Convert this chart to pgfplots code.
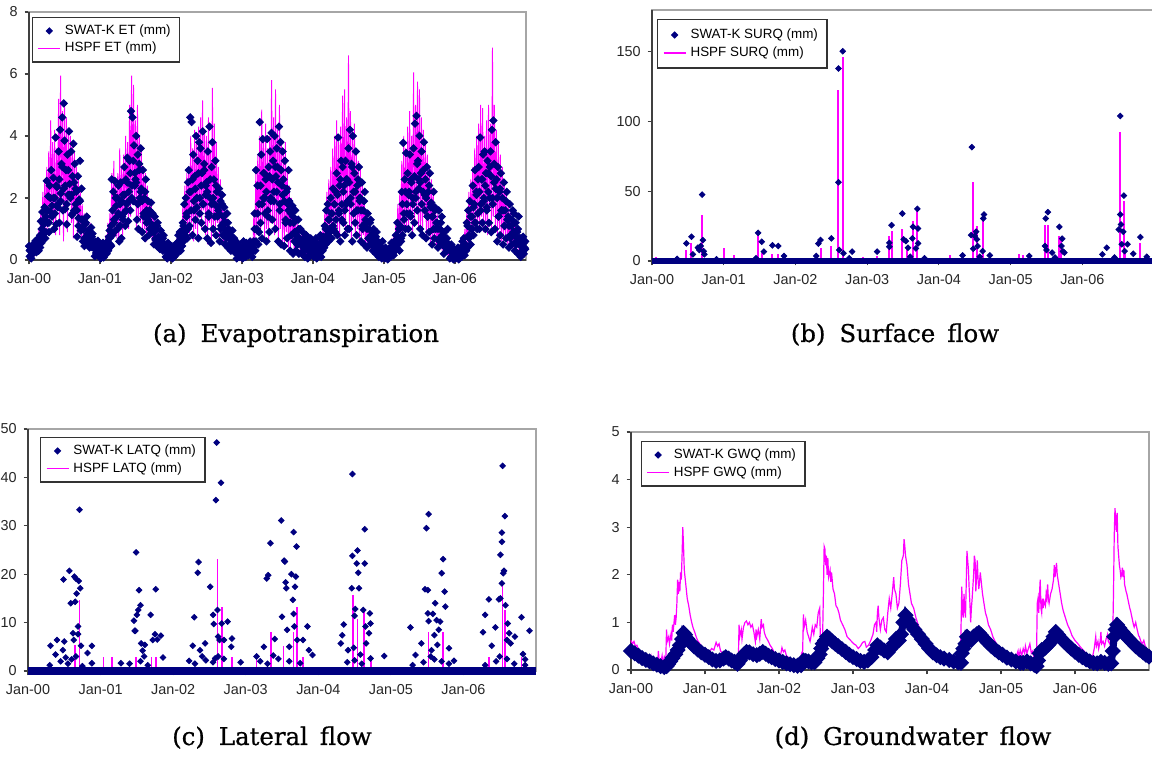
\documentclass[border=0pt]{standalone}
\usepackage{pgfplots}
\pgfplotsset{compat=1.18}
\usepackage{fontspec}
\setmainfont{Liberation Sans}
\newfontfamily\capfont[FakeBold=0.6]{DejaVu Serif}
\definecolor{swat}{RGB}{0,0,128}
\definecolor{hspf}{RGB}{255,0,255}

\tikzset{darkframe/.style={black!75, line width=0.9pt}}
\pgfplotsset{
  dmark/.style={mark=square*, mark size=1.0pt, mark options={rotate=45}},
  panel/.style={
    scale only axis, anchor=south west, clip=false,
    xmin=0, xmax=7, xtick={0,...,6},
    xticklabels={Jan-00,Jan-01,Jan-02,Jan-03,Jan-04,Jan-05,Jan-06},
    tick pos=left, tick align=outside, major tick length=2.2pt,
    tick style={black!75, line width=0.6pt},
    axis line style={black!35, line width=0.6pt},
    ticklabel style={font=\fontsize{7.2}{9}\selectfont, text=black!85},
    xticklabel style={yshift=-1pt},
    /pgf/number format/assume math mode=true,
    legend style={draw=black!80, line width=0.6pt, anchor=north west,
      font=\fontsize{6.7}{8.5}\selectfont, inner xsep=2.5pt, inner ysep=1.5pt,
      row sep=-1.5pt, cells={anchor=west}},
    legend image code/.code={\draw[mark repeat=2,mark phase=2,#1]
      plot coordinates {(0pt,0pt)(5.5pt,0pt)(11pt,0pt)};},
  },
}

\begin{document}
\begin{tikzpicture}[x=1pt,y=1pt]
\useasboundingbox (0,0) rectangle (576,379);

% ---------------- (a) evapotranspiration ----------------
\begin{axis}[panel, at={(14.5pt,249pt)}, width=248.5pt, height=124pt,
  ymin=0, ymax=8, ytick={0,2,4,6,8},
  legend style={at={(0.006,0.98)}}]
\addlegendimage{only marks, dmark, swat}
\addlegendentry{SWAT-K ET (mm)}
\addlegendimage{hspf, line width=0.7pt}
\addlegendentry{HSPF ET (mm)}
\draw[darkframe] (rel axis cs:0,1) -- (rel axis cs:0,0) -- (rel axis cs:1,0);
\addplot[hspf, line width=0.45pt, forget plot] table[row sep=\\, x expr=\coordindex/72, y=v] {
v\\
0.3\\0.1\\0.5\\0.2\\0.6\\0.1\\ 0.5\\0.2\\0.8\\0.3\\1.0\\0.4\\ 1.6\\0.6\\2.2\\0.9\\2.6\\1.0\\
3.0\\1.0\\3.5\\1.2\\4.5\\1.5\\ 3.8\\1.0\\4.2\\0.8\\3.6\\1.6\\ 5.2\\0.8\\5.95\\2.0\\4.8\\0.6\\
5.1\\1.5\\4.6\\0.9\\4.2\\2.0\\ 4.0\\1.2\\3.8\\0.7\\3.5\\1.5\\ 3.0\\0.8\\2.6\\1.0\\2.2\\0.6\\
1.8\\0.5\\1.5\\0.7\\1.3\\0.4\\ 1.0\\0.3\\1.2\\0.4\\0.8\\0.3\\ 0.6\\0.2\\0.5\\0.1\\0.4\\0.1\\
0.4\\0.1\\0.5\\0.1\\0.6\\0.2\\ 0.8\\0.3\\1.2\\0.5\\1.5\\0.6\\ 2.8\\0.8\\3.2\\1.0\\2.6\\0.7\\
2.8\\0.6\\3.6\\1.0\\3.0\\0.8\\ 3.4\\1.2\\4.0\\1.5\\3.8\\1.0\\ 5.0\\1.4\\5.95\\1.8\\5.65\\2.0\\
4.5\\1.0\\5.0\\1.4\\4.0\\1.2\\ 3.5\\0.8\\3.0\\1.0\\2.8\\0.6\\ 2.4\\0.7\\2.0\\0.9\\1.8\\0.6\\
1.5\\0.5\\1.3\\0.4\\1.1\\0.4\\ 0.9\\0.3\\1.0\\0.3\\0.7\\0.2\\ 0.5\\0.1\\0.4\\0.05\\0.3\\0.1\\
0.3\\0.05\\0.4\\0.1\\0.5\\0.2\\ 0.7\\0.2\\0.9\\0.4\\1.1\\0.5\\ 1.8\\0.6\\2.4\\0.8\\2.8\\1.0\\
3.0\\0.8\\4.0\\1.2\\3.6\\0.6\\ 4.2\\1.0\\3.8\\0.7\\4.3\\1.4\\ 4.6\\1.0\\5.15\\1.6\\4.2\\0.8\\
4.0\\0.5\\4.6\\1.2\\3.5\\0.6\\ 5.55\\1.0\\4.4\\0.7\\3.8\\1.2\\ 3.0\\0.6\\2.6\\0.9\\2.2\\0.5\\
1.8\\0.4\\1.5\\0.6\\1.2\\0.3\\ 0.9\\0.2\\0.8\\0.3\\0.6\\0.2\\ 0.5\\0.05\\0.4\\0.1\\0.3\\0.05\\
0.4\\0.05\\0.5\\0.1\\0.6\\0.1\\ 0.5\\0.1\\0.6\\0.2\\0.7\\0.3\\ 1.5\\0.4\\2.8\\0.8\\3.4\\1.0\\
4.0\\0.8\\4.85\\1.2\\3.8\\0.7\\ 4.4\\1.0\\3.6\\0.6\\4.0\\1.2\\ 5.8\\1.4\\4.6\\0.8\\5.5\\1.0\\
4.2\\0.6\\5.0\\1.0\\3.8\\0.5\\ 3.4\\0.4\\3.8\\0.9\\2.8\\0.4\\ 2.4\\0.3\\2.0\\0.6\\1.6\\0.3\\
1.4\\0.2\\1.2\\0.4\\1.0\\0.2\\ 0.8\\0.1\\0.7\\0.2\\0.6\\0.1\\ 0.5\\0.05\\0.6\\0.1\\0.4\\0.05\\
0.4\\0.05\\0.6\\0.1\\0.5\\0.2\\ 0.7\\0.2\\0.9\\0.3\\1.0\\0.4\\ 1.6\\0.5\\2.2\\0.8\\2.6\\0.9\\
3.0\\0.8\\3.6\\1.0\\4.0\\1.2\\ 4.5\\1.0\\3.8\\0.7\\4.3\\1.4\\ 5.3\\1.2\\5.5\\0.8\\4.6\\1.6\\
6.6\\1.0\\4.8\\0.6\\4.2\\1.3\\ 4.4\\0.8\\3.6\\1.0\\3.2\\0.6\\ 3.0\\0.5\\2.4\\0.8\\2.0\\0.4\\
1.6\\0.4\\1.3\\0.5\\1.0\\0.3\\ 0.9\\0.2\\0.8\\0.3\\0.6\\0.1\\ 0.5\\0.05\\0.4\\0.1\\0.3\\0.05\\
0.3\\0.05\\0.4\\0.1\\0.3\\0.05\\ 0.5\\0.1\\0.7\\0.2\\0.8\\0.3\\ 1.2\\0.4\\1.8\\0.6\\2.2\\0.7\\
3.2\\0.8\\4.0\\1.0\\3.6\\0.9\\ 4.3\\1.0\\4.8\\1.4\\4.0\\0.8\\ 6.05\\1.2\\5.0\\1.6\\5.75\\1.0\\
5.5\\1.0\\4.6\\0.7\\4.2\\1.4\\ 3.8\\0.6\\3.4\\1.0\\3.0\\0.5\\ 2.6\\0.5\\2.2\\0.7\\1.8\\0.4\\
1.5\\0.3\\1.2\\0.5\\1.0\\0.3\\ 0.8\\0.2\\0.7\\0.3\\0.5\\0.1\\ 0.4\\0.05\\0.3\\0.1\\0.2\\0.05\\
0.3\\0.05\\0.4\\0.1\\0.5\\0.1\\ 0.6\\0.2\\0.8\\0.3\\1.0\\0.4\\ 1.6\\0.5\\2.2\\0.8\\2.6\\1.0\\
3.0\\0.8\\3.6\\1.1\\4.0\\1.2\\ 4.4\\1.0\\5.0\\1.4\\4.9\\0.9\\ 4.0\\1.2\\4.5\\0.8\\5.0\\1.6\\
4.4\\1.0\\6.85\\1.4\\5.0\\0.9\\ 4.2\\0.7\\3.8\\1.0\\3.4\\0.6\\ 3.0\\0.5\\2.6\\0.8\\2.2\\0.5\\
1.8\\0.4\\1.6\\0.6\\1.3\\0.3\\ 1.2\\0.3\\1.0\\0.4\\0.8\\0.2\\ 0.6\\0.1\\0.8\\0.2\\0.5\\0.1\\
};
% SWAT-K daily ET, spread part of the cloud
\addplot[only marks, dmark, mark size=1.3pt, swat, forget plot] table[row sep=\\, x expr=\coordindex/96, y=v] {
v\\
0.45\\0.12\\0.33\\0.05\\0.41\\0.22\\0.52\\0.28\\ 0.35\\0.62\\0.25\\0.48\\0.68\\0.3\\0.55\\0.8\\
1.25\\0.55\\1.55\\0.85\\1.15\\1.7\\0.7\\1.4\\ 2.55\\1.2\\2.05\\0.9\\2.4\\1.55\\2.9\\1.75\\
1.45\\2.65\\1.0\\2.0\\3.95\\1.15\\2.35\\1.7\\ 3.5\\1.2\\4.2\\2.15\\3.1\\4.6\\1.6\\5.05\\
3.85\\1.65\\2.9\\1.15\\3.4\\2.1\\4.15\\2.45\\ 2.0\\3.5\\1.45\\2.7\\3.75\\1.6\\3.1\\2.3\\
2.2\\0.75\\2.7\\1.35\\1.95\\3.2\\0.95\\2.3\\ 1.3\\0.6\\1.0\\0.45\\1.15\\0.75\\1.4\\0.85\\
0.55\\0.95\\0.4\\0.75\\1.05\\0.42\\0.85\\0.6\\ 0.45\\0.12\\0.58\\0.25\\0.4\\0.62\\0.15\\0.48\\
0.3\\0.05\\0.45\\0.15\\0.55\\0.08\\0.35\\0.2\\ 0.4\\0.2\\0.6\\0.3\\0.75\\0.95\\0.5\\1.1\\
2.6\\0.8\\2.2\\1.3\\2.55\\0.95\\1.75\\2.0\\ 1.0\\2.4\\0.6\\1.8\\2.5\\0.7\\1.4\\2.1\\
1.5\\3.0\\1.1\\2.6\\1.8\\3.3\\1.25\\2.2\\ 3.2\\1.6\\4.8\\2.4\\4.6\\1.9\\3.7\\2.8\\
2.6\\4.0\\1.3\\3.4\\1.0\\3.1\\2.0\\3.6\\ 2.3\\0.9\\2.9\\1.5\\2.0\\0.7\\2.6\\1.2\\
1.4\\1.9\\0.8\\1.6\\1.2\\1.85\\0.9\\1.5\\ 1.1\\0.5\\1.4\\0.7\\1.0\\0.45\\1.2\\0.6\\
0.7\\0.35\\0.95\\0.5\\0.6\\0.3\\0.8\\0.4\\ 0.45\\0.1\\0.35\\0.05\\0.55\\0.2\\0.3\\0.08\\
0.2\\0.45\\0.05\\0.3\\0.1\\0.4\\0.15\\0.5\\ 0.55\\0.25\\0.8\\0.4\\0.9\\0.3\\0.65\\0.95\\
1.2\\0.6\\1.8\\0.9\\2.0\\1.4\\0.7\\2.5\\ 2.9\\1.1\\4.6\\2.2\\4.45\\0.8\\3.4\\1.6\\
2.7\\1.3\\4.0\\2.0\\3.2\\0.7\\3.8\\1.5\\ 3.6\\1.2\\2.8\\4.15\\1.8\\3.1\\1.0\\2.4\\
2.5\\0.7\\3.5\\1.4\\4.3\\2.0\\0.55\\3.0\\ 3.8\\1.0\\2.6\\1.8\\3.2\\0.8\\2.2\\1.4\\
1.6\\2.3\\0.6\\1.9\\1.1\\2.1\\0.8\\1.4\\ 1.7\\0.5\\1.2\\0.9\\1.5\\0.4\\1.0\\0.7\\
0.8\\0.3\\0.6\\0.95\\0.4\\0.7\\0.25\\0.55\\ 0.4\\0.05\\0.55\\0.15\\0.3\\0.1\\0.45\\0.2\\
0.3\\0.05\\0.6\\0.2\\0.45\\0.1\\0.55\\0.25\\ 0.5\\0.15\\0.35\\0.6\\0.2\\0.45\\0.1\\0.4\\
0.6\\1.5\\0.3\\2.9\\1.0\\2.4\\0.5\\1.8\\ 4.45\\1.2\\3.4\\0.7\\3.9\\2.0\\2.8\\1.5\\
2.6\\0.6\\3.9\\1.4\\3.0\\0.9\\3.5\\2.0\\ 4.1\\1.3\\3.2\\2.2\\4.0\\1.0\\2.7\\3.6\\
3.0\\0.6\\4.3\\1.6\\3.8\\0.5\\2.4\\3.5\\ 2.6\\0.45\\3.2\\1.2\\2.2\\0.7\\1.8\\2.9\\
1.9\\0.3\\1.5\\0.8\\1.75\\0.2\\1.2\\0.6\\ 1.6\\0.3\\0.9\\0.5\\1.3\\0.2\\0.7\\1.0\\
0.6\\0.2\\0.9\\0.4\\0.7\\0.1\\0.5\\0.8\\ 0.45\\0.05\\0.3\\0.6\\0.15\\0.7\\0.2\\0.5\\
0.3\\0.1\\0.6\\0.2\\0.7\\0.05\\0.45\\0.35\\ 0.5\\0.2\\0.8\\0.1\\0.65\\0.3\\0.75\\0.4\\
1.1\\0.5\\1.6\\0.8\\1.8\\0.6\\1.3\\1.0\\ 2.0\\0.7\\1.5\\2.3\\1.0\\1.8\\0.9\\2.2\\
2.8\\0.8\\3.95\\1.6\\2.4\\0.6\\3.2\\1.3\\ 3.0\\1.2\\2.4\\0.8\\3.2\\1.8\\2.6\\1.0\\
3.6\\1.0\\4.2\\2.0\\3.1\\0.6\\4.0\\1.5\\ 2.8\\1.2\\3.5\\0.8\\2.4\\1.6\\3.0\\2.0\\
2.0\\0.6\\2.5\\1.0\\1.6\\0.5\\2.2\\1.2\\ 1.2\\0.4\\1.5\\0.7\\1.0\\0.5\\1.3\\0.8\\
0.8\\0.3\\1.0\\0.5\\0.7\\0.2\\0.9\\0.6\\ 0.4\\0.1\\0.55\\0.2\\0.35\\0.05\\0.6\\0.25\\
0.25\\0.05\\0.4\\0.15\\0.3\\0.02\\0.35\\0.1\\ 0.35\\0.1\\0.55\\0.2\\0.45\\0.15\\0.6\\0.3\\
0.8\\0.4\\1.2\\0.6\\1.0\\0.3\\1.1\\0.7\\ 2.2\\0.8\\3.78\\1.5\\2.6\\1.0\\3.45\\1.8\\
2.8\\1.0\\2.2\\3.4\\1.4\\2.6\\0.8\\2.0\\ 3.6\\1.2\\4.4\\2.2\\4.65\\1.6\\3.2\\2.6\\
4.0\\1.0\\2.8\\3.5\\0.8\\2.2\\3.8\\1.6\\ 2.6\\0.7\\3.0\\1.4\\2.2\\0.9\\2.8\\1.8\\
1.85\\0.5\\1.4\\2.2\\0.7\\1.6\\1.0\\1.2\\ 1.2\\0.4\\1.6\\0.6\\1.0\\0.5\\1.4\\0.8\\
0.7\\0.2\\0.9\\0.4\\0.6\\0.3\\1.0\\0.5\\ 0.4\\0.05\\0.3\\0.5\\0.1\\0.25\\0.02\\0.35\\
0.2\\0.05\\0.35\\0.1\\0.4\\0.02\\0.25\\0.15\\ 0.4\\0.1\\0.6\\0.25\\0.7\\0.15\\0.5\\0.35\\
1.2\\0.4\\1.6\\0.7\\1.9\\0.5\\1.0\\1.4\\ 2.4\\0.8\\1.8\\2.9\\1.2\\2.2\\1.0\\2.6\\
3.0\\1.0\\3.95\\1.8\\2.6\\1.2\\3.4\\2.0\\ 3.5\\1.0\\2.8\\1.6\\3.2\\2.2\\1.2\\3.0\\
3.5\\0.9\\4.2\\1.8\\4.5\\2.5\\1.0\\3.8\\ 2.6\\0.6\\3.0\\1.4\\2.2\\0.8\\2.8\\1.6\\
2.0\\0.5\\2.5\\1.1\\1.6\\0.7\\2.2\\1.3\\ 1.4\\0.4\\1.8\\0.7\\1.1\\0.5\\1.6\\0.9\\
1.5\\0.3\\1.2\\0.6\\0.9\\0.2\\1.4\\0.7\\ 0.7\\0.1\\0.5\\0.3\\0.75\\0.2\\0.4\\0.6\\
};
% SWAT-K daily ET, dense core of the cloud
\addplot[only marks, dmark, mark size=1.3pt, swat, forget plot] table[row sep=\\, x expr=(\coordindex+0.5)/48, y=v] {
v\\
0.3\\0.15\\0.4\\0.25\\ 0.45\\0.3\\0.6\\0.4\\ 1.0\\0.7\\1.3\\0.9\\ 1.6\\1.2\\2.0\\1.4\\
2.0\\1.5\\2.4\\1.8\\ 2.6\\1.9\\3.0\\2.3\\ 2.4\\1.8\\2.9\\2.1\\ 2.1\\1.5\\2.5\\1.8\\
1.6\\1.1\\1.9\\1.3\\ 1.0\\0.7\\1.2\\0.8\\ 0.6\\0.45\\0.75\\0.5\\ 0.35\\0.2\\0.45\\0.3\\
0.3\\0.15\\0.35\\0.2\\ 0.5\\0.35\\0.7\\0.45\\ 1.6\\1.2\\2.0\\1.4\\ 1.5\\1.1\\1.9\\1.3\\
2.1\\1.6\\2.5\\1.9\\ 2.8\\2.0\\3.2\\2.4\\ 2.5\\1.8\\2.9\\2.2\\ 1.9\\1.4\\2.2\\1.6\\
1.3\\1.0\\1.5\\1.1\\ 0.9\\0.65\\1.1\\0.75\\ 0.55\\0.4\\0.7\\0.5\\ 0.3\\0.15\\0.4\\0.2\\
0.25\\0.1\\0.35\\0.2\\ 0.5\\0.35\\0.7\\0.45\\ 1.1\\0.8\\1.5\\1.0\\ 2.2\\1.6\\2.6\\1.9\\
2.3\\1.7\\2.8\\2.0\\ 2.4\\1.8\\2.9\\2.1\\ 2.2\\1.5\\2.6\\1.8\\ 2.0\\1.4\\2.4\\1.7\\
1.5\\1.0\\1.8\\1.2\\ 1.0\\0.7\\1.2\\0.8\\ 0.55\\0.4\\0.7\\0.45\\ 0.3\\0.15\\0.35\\0.2\\
0.25\\0.1\\0.35\\0.2\\ 0.35\\0.2\\0.45\\0.3\\ 1.0\\0.6\\1.5\\0.9\\ 2.4\\1.8\\2.8\\2.0\\
2.2\\1.6\\2.7\\1.9\\ 2.6\\1.9\\3.0\\2.2\\ 2.5\\1.8\\2.9\\2.1\\ 1.9\\1.3\\2.3\\1.6\\
1.2\\0.8\\1.4\\0.9\\ 0.8\\0.5\\1.0\\0.6\\ 0.5\\0.3\\0.6\\0.4\\ 0.3\\0.15\\0.4\\0.2\\
0.3\\0.15\\0.4\\0.25\\ 0.45\\0.3\\0.6\\0.4\\ 1.0\\0.7\\1.3\\0.9\\ 1.5\\1.1\\1.8\\1.3\\
2.1\\1.5\\2.6\\1.8\\ 2.2\\1.6\\2.6\\1.9\\ 2.5\\1.8\\3.0\\2.2\\ 2.2\\1.6\\2.6\\1.9\\
1.6\\1.1\\1.9\\1.3\\ 1.0\\0.7\\1.2\\0.8\\ 0.6\\0.4\\0.75\\0.5\\ 0.3\\0.15\\0.4\\0.2\\
0.2\\0.1\\0.3\\0.15\\ 0.35\\0.2\\0.45\\0.3\\ 0.8\\0.5\\1.0\\0.6\\ 1.8\\1.3\\2.2\\1.5\\
2.1\\1.5\\2.5\\1.8\\ 2.7\\2.0\\3.1\\2.3\\ 2.5\\1.8\\2.9\\2.1\\ 2.0\\1.4\\2.4\\1.7\\
1.4\\1.0\\1.7\\1.2\\ 1.0\\0.7\\1.2\\0.8\\ 0.6\\0.4\\0.7\\0.45\\ 0.3\\0.1\\0.35\\0.2\\
0.2\\0.1\\0.3\\0.15\\ 0.4\\0.25\\0.5\\0.3\\ 1.1\\0.8\\1.4\\1.0\\ 1.7\\1.2\\2.1\\1.5\\
2.2\\1.6\\2.6\\1.9\\ 2.4\\1.7\\2.8\\2.0\\ 2.7\\2.0\\3.1\\2.3\\ 2.0\\1.4\\2.3\\1.6\\
1.6\\1.1\\1.9\\1.3\\ 1.1\\0.8\\1.3\\0.9\\ 0.8\\0.5\\1.0\\0.6\\ 0.45\\0.25\\0.55\\0.35\\
};
\end{axis}

% ---------------- (b) surface flow ----------------
\begin{axis}[panel, at={(326pt,248.5pt)}, width=251pt, height=125.5pt,
  ymin=0, ymax=180, ytick={0,50,100,150},
  legend style={at={(0.01,0.964)}, inner ysep=2.5pt}]
\addlegendimage{only marks, dmark, swat}
\addlegendentry{SWAT-K SURQ (mm)}
\addlegendimage{hspf, line width=1pt}
\addlegendentry{HSPF SURQ (mm)}
\draw[darkframe] (rel axis cs:0,1) -- (rel axis cs:0,0) -- (rel axis cs:1,0);
\addplot[ycomb, hspf, line width=1pt, forget plot] coordinates {
(0.06,3)(0.48,8)(0.55,13)(0.70,33)(1.01,9.5)(1.15,4)(1.48,20)(1.53,6)(1.68,5)(1.76,5)
(2.29,4)(2.35,9.5)(2.50,10.5)(2.60,122.6)(2.66,146)(2.94,3)(3.14,3.5)(3.31,18)(3.34,21.4)
(3.49,22.6)(3.55,10.7)(3.64,28.6)(3.70,35.7)(4.16,4)(4.47,56.4)(4.53,25)(4.62,32)
(5.12,4.8)(5.17,4)(5.48,26)(5.52,25.7)(5.68,18)(5.71,15.5)(6.53,92.3)(6.58,43)(6.60,8)
(6.81,13)(6.90,4.8)};
\addplot[swat, line width=3.4pt, forget plot] coordinates {(0,0)(7,0)};
\addplot[only marks, dmark, swat, forget plot] coordinates {
(0.48,12.6)(0.55,17.4)(0.57,4.8)(0.64,9.5)(0.66,7.9)(0.70,47.6)(0.71,15)(0.68,10.7)
(0.72,7)(0.73,4.8)(0.35,1.5)(0.9,1.2)(1.48,20.2)(1.53,13.8)(1.56,6.7)(1.68,11.2)
(1.76,10.7)(1.84,3.6)(1.45,2)(2.29,3.6)(2.32,12.4)(2.35,15)(2.50,16.2)(2.60,56.4)
(2.60,138)(2.61,7.9)(2.66,150.4)(2.67,5.5)(2.79,6.7)(2.75,2)(3.14,6.7)(3.31,10.2)
(3.31,13)(3.34,25.7)(3.49,34)(3.51,15.5)(3.54,14.3)(3.57,9.5)(3.63,16.2)(3.64,24.5)
(3.68,9)(3.70,37.4)(3.71,12.6)(3.71,23.3)(3.6,3)(3.8,2)(4.33,4)(4.45,18.6)(4.46,81.6)
(4.48,8.8)(4.50,17.9)(4.52,21)(4.53,15.5)(4.54,10.7)(4.61,7.1)(4.62,30.5)(4.63,33.3)
(4.71,4)(4.57,3)(5.26,3.6)(5.48,10.7)(5.49,30.5)(5.52,35)(5.50,7.9)(5.58,6)(5.68,24.5)
(5.71,10.7)(5.72,16)(5.73,6.9)(5.75,6)(5.62,2.5)(6.28,4.8)(6.34,9.5)(6.51,22.6)
(6.53,33.3)(6.54,26.2)(6.53,104)(6.55,12)(6.57,21)(6.58,46.9)(6.59,7.1)(6.63,12)
(6.71,5.2)(6.81,17.1)(6.90,3)(6.45,2.5)};
\end{axis}

% ---------------- (c) lateral flow ----------------
\begin{axis}[panel, at={(14pt,43.5pt)}, width=254pt, height=121pt,
  ymin=0, ymax=50, ytick={0,10,...,50},
  legend style={at={(0.024,0.967)}}]
\addlegendimage{only marks, dmark, swat}
\addlegendentry{SWAT-K LATQ (mm)}
\addlegendimage{hspf, line width=0.8pt}
\addlegendentry{HSPF LATQ (mm)}
\draw[darkframe] (rel axis cs:0,1) -- (rel axis cs:0,0) -- (rel axis cs:1,0);
\addplot[ycomb, hspf, line width=0.8pt, forget plot] coordinates {
(0.65,5.4)(0.71,14.7)(1.04,2.8)(1.16,2.8)(1.49,2.8)(1.70,2.8)(1.76,2.8)(2.61,23.1)
(2.67,13.2)(2.81,2.8)(3.15,2.8)(3.35,8)(3.52,5.2)(3.66,8)(3.71,13.2)(3.79,2.8)
(4.48,15.6)(4.54,10.7)(4.63,12.6)(4.73,2.8)(5.52,8)(5.72,8)(6.35,2.8)(6.54,18.5)
(6.57,12.6)(6.80,2.8)};
\addplot[swat, line width=3.6pt, forget plot] coordinates {(0,0)(7,0)};
\addplot[only marks, dmark, swat, forget plot] coordinates {
(0.31,5.2)(0.38,3.4)(0.40,6.4)(0.48,4.3)(0.49,18.9)(0.50,6.1)(0.57,20.7)(0.59,14)
(0.62,7.8)(0.63,6.4)(0.64,19.5)(0.66,19.1)(0.65,14.3)(0.67,16)(0.69,7.6)(0.70,18.6)
(0.71,33.3)(0.72,17.1)(0.69,9.2)(0.73,5.2)(0.82,3.7)(0.88,5.2)(0.88,1.6)
(0.3,1.2)(0.45,2.0)(0.55,1.5)(0.6,2.4)(0.75,1.0)(0.52,2.8)(0.66,3.0)
(1.28,1.6)(1.46,10.4)(1.47,8.3)(1.48,8.3)(1.49,24.5)(1.50,11.6)(1.52,12.6)(1.53,16.7)
(1.55,13.6)(1.56,5.7)(1.58,4.2)(1.60,3)(1.61,5.4)(1.69,11.6)(1.72,6.4)(1.75,7.6)
(1.76,16.9)(1.78,6.5)(1.83,7.3)(1.86,2.8)(1.4,1.5)(1.55,2.0)(1.65,1.2)
(2.22,2.1)(2.27,5.2)(2.29,11.1)(2.34,20.3)(2.35,22.5)(2.37,4.3)(2.44,5.7)(2.51,17.4)
(2.55,11.6)(2.56,9.7)(2.59,35.3)(2.60,47.2)(2.61,12.6)(2.62,7.1)(2.62,3)(2.64,6.4)
(2.66,38.9)(2.67,9.8)(2.70,6.4)(2.75,10.2)(2.80,5)(2.81,6.7)(2.93,1.8)
(2.3,1.5)(2.45,2.2)(2.55,1.8)(2.7,2.5)(2.4,3.0)(2.58,2.6)
(3.15,3)(3.25,5)(3.29,19.1)(3.31,19.8)(3.34,26.4)(3.40,6.6)(3.49,31.1)(3.50,11.2)
(3.53,22.8)(3.54,22.6)(3.55,18.3)(3.56,17.1)(3.57,8.5)(3.60,5)(3.63,20)(3.65,14.7)
(3.66,28.7)(3.66,11.8)(3.67,9.2)(3.68,17.4)(3.69,19.5)(3.70,25.7)(3.71,6.4)(3.79,6.4)
(3.85,9.2)(3.87,4.3)(3.92,3.3)(3.2,2.0)(3.3,1.5)(3.45,2.5)(3.6,2.0)(3.75,1.6)(3.38,3.2)
(4.31,5.7)(4.33,7.4)(4.35,9.6)(4.41,4.3)(4.46,17.1)(4.47,23.8)(4.47,40.7)(4.49,4.8)
(4.50,11.4)(4.51,12.8)(4.53,22.2)(4.54,24.9)(4.55,20.3)(4.56,17.1)(4.62,12.6)(4.64,29.3)
(4.64,22.2)(4.65,9.2)(4.66,5.7)(4.70,7.8)(4.71,11.9)(4.72,9.8)(4.72,2.6)(4.91,3.1)
(4.4,1.8)(4.5,2.2)(4.6,1.5)(4.58,3.4)
(5.27,9)(5.34,3.3)(5.42,5.7)(5.47,16.9)(5.49,29.5)(5.51,16.7)(5.51,11.9)(5.52,10.3)
(5.52,32.4)(5.56,4.3)(5.58,11.8)(5.60,7.4)(5.61,14)(5.63,10.5)(5.64,5.4)(5.66,8.5)
(5.68,10.2)(5.70,20.2)(5.72,23.1)(5.74,16.4)(5.75,13.3)(5.80,4.7)(5.87,2.1)
(5.3,1.2)(5.45,1.8)(5.6,2.4)(5.7,2.0)(5.8,1.5)(5.55,3.0)
(6.27,8)(6.30,11.6)(6.35,14.8)(6.39,5.2)(6.44,9)(6.49,14.8)(6.51,15)(6.51,24)
(6.53,18.1)(6.53,28.6)(6.53,26.7)(6.54,42.4)(6.55,20.2)(6.56,20.7)(6.57,32)(6.58,13.6)
(6.60,6.4)(6.61,9.8)(6.63,7.8)(6.65,5.7)(6.71,7.1)(6.80,11.1)(6.82,3.5)(6.85,2.4)
(6.91,8.3)(6.3,1.2)(6.45,2.0)(6.6,2.5)(6.7,1.5)(6.85,1.2)(6.5,3.0)};
\end{axis}

% ---------------- (d) groundwater flow ----------------
\begin{axis}[panel, at={(315.5pt,44pt)}, width=259pt, height=119pt,
  ymin=0, ymax=5, ytick={0,...,5},
  legend style={at={(0.019,0.962)}}]
\addlegendimage{only marks, dmark, swat}
\addlegendentry{SWAT-K GWQ (mm)}
\addlegendimage{hspf, line width=0.7pt}
\addlegendentry{HSPF GWQ (mm)}
\draw[darkframe] (rel axis cs:0,1) -- (rel axis cs:0,0) -- (rel axis cs:1,0);
\addplot[hspf, line width=0.6pt, forget plot] coordinates {
(0,0.62)(0.02,0.55)(0.04,0.6)(0.06,0.5)(0.08,0.52)(0.1,0.42)(0.12,0.38)(0.14,0.3)
(0.16,0.27)(0.18,0.22)(0.2,0.2)(0.22,0.18)(0.24,0.26)(0.25,0.15)(0.27,0.28)(0.28,0.14)
(0.3,0.18)(0.32,0.12)(0.34,0.2)(0.36,0.15)(0.37,0.4)(0.38,0.2)(0.4,0.15)(0.42,0.3)
(0.43,0.12)(0.45,0.28)(0.47,0.2)(0.48,0.85)(0.49,0.6)(0.51,0.7)(0.52,0.55)(0.54,0.75)
(0.55,0.62)(0.56,0.95)(0.57,0.8)(0.59,1.15)(0.6,0.95)(0.61,1.1)(0.62,1.4)(0.63,1.9)
(0.64,1.6)(0.65,1.85)(0.66,1.65)(0.67,2.05)(0.68,1.9)(0.69,2.4)(0.7,3.0)(0.71,2.6)
(0.72,2.1)(0.74,1.8)(0.76,1.5)(0.78,1.35)(0.8,1.15)(0.82,1.0)(0.84,0.88)(0.86,0.8)
(0.88,0.7)(0.9,0.62)(0.93,0.55)(0.96,0.48)(1.0,0.45)(1.03,0.42)(1.06,0.38)(1.09,0.45)
(1.12,0.42)(1.15,0.58)(1.17,0.5)(1.19,0.55)(1.21,0.4)(1.24,0.35)(1.27,0.3)(1.3,0.25)
(1.34,0.2)(1.38,0.15)(1.42,0.12)(1.45,0.15)(1.46,0.95)(1.47,0.7)(1.49,0.85)(1.5,0.65)
(1.52,0.9)(1.54,1.0)(1.56,1.03)(1.58,0.95)(1.6,1.0)(1.62,0.9)(1.64,0.95)(1.66,0.8)
(1.68,0.6)(1.69,0.85)(1.7,0.7)(1.72,0.85)(1.74,0.65)(1.76,1.07)(1.77,0.9)(1.79,0.95)
(1.8,0.8)(1.82,0.7)(1.85,0.62)(1.88,0.52)(1.91,0.45)(1.94,0.35)(1.97,0.3)(2.0,0.27)
(2.02,0.3)(2.04,0.47)(2.06,0.38)(2.08,0.42)(2.1,0.3)(2.14,0.25)(2.18,0.2)(2.22,0.15)
(2.26,0.22)(2.28,0.12)(2.3,0.3)(2.31,0.15)(2.32,0.42)(2.33,1.17)(2.34,0.9)(2.36,1.05)
(2.38,0.8)(2.4,0.7)(2.42,0.6)(2.43,0.68)(2.45,0.9)(2.47,0.75)(2.49,0.95)(2.51,0.9)
(2.53,1.2)(2.55,1.3)(2.56,0.6)(2.57,0.5)(2.59,0.75)(2.6,1.6)(2.61,2.6)(2.62,2.55)
(2.63,2.2)(2.64,2.4)(2.65,2.0)(2.66,2.35)(2.67,1.95)(2.69,2.1)(2.7,1.85)(2.71,2.05)
(2.73,1.7)(2.75,1.6)(2.77,1.35)(2.79,1.3)(2.81,1.2)(2.83,1.05)(2.86,0.95)(2.89,0.85)
(2.92,0.7)(2.95,0.65)(2.98,0.6)(3.01,0.55)(3.04,0.52)(3.07,0.45)(3.1,0.5)(3.13,0.58)
(3.16,0.6)(3.18,0.48)(3.21,0.52)(3.24,0.62)(3.27,0.75)(3.29,0.95)(3.31,1.0)(3.32,0.8)
(3.33,1.2)(3.34,1.35)(3.35,1.1)(3.37,0.85)(3.39,1.05)(3.41,1.1)(3.43,0.85)(3.45,0.8)
(3.47,1.2)(3.49,1.5)(3.51,1.3)(3.53,1.6)(3.55,1.95)(3.56,1.7)(3.58,1.6)(3.6,1.3)
(3.62,1.4)(3.64,1.8)(3.66,2.3)(3.68,2.4)(3.69,2.75)(3.7,2.6)(3.71,2.4)(3.73,2.2)
(3.75,1.8)(3.77,1.6)(3.79,1.4)(3.82,1.3)(3.85,1.1)(3.88,0.95)(3.91,0.85)(3.94,0.8)
(3.97,0.65)(4.0,0.58)(4.04,0.5)(4.08,0.38)(4.12,0.32)(4.16,0.28)(4.2,0.25)(4.23,0.3)
(4.26,0.22)(4.3,0.2)(4.34,0.18)(4.38,0.17)(4.42,0.15)(4.45,0.2)(4.46,0.9)(4.47,1.75)
(4.48,1.2)(4.49,1.1)(4.5,1.6)(4.51,1.3)(4.52,1.1)(4.53,1.8)(4.54,2.5)(4.55,2.3)
(4.56,2.1)(4.57,1.7)(4.58,1.4)(4.59,1.0)(4.6,1.3)(4.61,1.5)(4.63,2.0)(4.64,2.4)
(4.65,2.3)(4.66,1.65)(4.67,2.0)(4.68,2.3)(4.69,1.9)(4.7,1.7)(4.71,1.85)(4.72,2.05)
(4.73,1.9)(4.75,1.6)(4.77,1.4)(4.79,1.2)(4.81,1.1)(4.83,0.95)(4.86,0.85)(4.89,0.7)
(4.92,0.6)(4.96,0.5)(5.0,0.42)(5.04,0.35)(5.08,0.3)(5.12,0.25)(5.16,0.22)(5.19,0.2)
(5.21,0.3)(5.23,0.4)(5.24,0.25)(5.26,0.42)(5.28,0.3)(5.3,0.45)(5.32,0.35)(5.33,0.5)
(5.35,0.35)(5.37,0.45)(5.39,0.55)(5.41,0.35)(5.43,0.4)(5.44,0.3)(5.46,0.35)(5.48,0.3)
(5.49,1.4)(5.5,1.5)(5.51,1.2)(5.52,1.6)(5.53,1.9)(5.54,1.3)(5.55,1.2)(5.56,1.5)
(5.57,1.3)(5.58,1.45)(5.6,1.35)(5.61,1.6)(5.62,1.5)(5.63,1.8)(5.64,1.5)(5.65,1.4)
(5.67,1.6)(5.69,1.7)(5.71,1.9)(5.72,2.2)(5.73,1.95)(5.74,2.1)(5.75,2.25)(5.76,2.0)
(5.78,1.8)(5.8,1.6)(5.82,1.4)(5.84,1.25)(5.87,1.1)(5.9,0.95)(5.93,0.85)(5.96,0.72)
(6.0,0.62)(6.04,0.55)(6.08,0.47)(6.12,0.4)(6.15,0.35)(6.18,0.3)(6.2,0.25)(6.22,0.2)
(6.24,0.3)(6.26,0.45)(6.28,0.7)(6.29,0.5)(6.31,0.6)(6.32,0.45)(6.34,0.6)(6.35,0.8)
(6.36,0.55)(6.38,0.6)(6.4,0.5)(6.42,0.65)(6.44,0.75)(6.45,0.6)(6.47,0.55)(6.49,0.7)
(6.5,0.6)(6.51,0.7)(6.52,1.6)(6.53,2.8)(6.54,3.4)(6.55,3.2)(6.56,2.9)(6.57,3.3)
(6.58,2.6)(6.59,2.4)(6.6,2.2)(6.61,2.1)(6.62,1.95)(6.63,2.0)(6.64,2.15)(6.65,1.95)
(6.66,2.1)(6.67,1.8)(6.69,1.65)(6.7,1.6)(6.72,1.45)(6.74,1.3)(6.75,1.25)(6.77,1.1)
(6.79,0.95)(6.8,0.9)(6.82,1.0)(6.84,0.85)(6.86,0.72)(6.87,0.7)(6.89,0.6)(6.91,0.55)
(6.93,0.62)(6.95,0.5)(6.97,0.45)(7.0,0.35)};
\addplot[swat, line width=3.5pt, dmark, mark size=1.1pt, forget plot] coordinates {
(0,0.40)(0.05,0.35)(0.1,0.30)(0.15,0.25)(0.2,0.21)(0.25,0.18)(0.3,0.14)(0.35,0.11)
(0.4,0.08)(0.45,0.06)(0.48,0.08)(0.5,0.12)(0.53,0.18)(0.56,0.25)(0.6,0.33)(0.63,0.42)
(0.66,0.52)(0.69,0.65)(0.71,0.78)(0.73,0.74)(0.76,0.66)(0.8,0.58)(0.85,0.5)(0.9,0.43)
(0.95,0.37)(1.0,0.32)(1.05,0.27)(1.1,0.22)(1.15,0.19)(1.2,0.2)(1.25,0.24)(1.28,0.27)
(1.32,0.24)(1.36,0.2)(1.4,0.17)(1.44,0.13)(1.47,0.2)(1.5,0.27)(1.53,0.33)(1.56,0.38)
(1.6,0.37)(1.65,0.33)(1.7,0.31)(1.74,0.34)(1.78,0.38)(1.82,0.34)(1.86,0.3)(1.9,0.27)
(1.95,0.23)(2.0,0.2)(2.05,0.17)(2.1,0.14)(2.15,0.12)(2.2,0.1)(2.25,0.09)(2.3,0.1)
(2.33,0.2)(2.36,0.19)(2.4,0.18)(2.44,0.16)(2.48,0.16)(2.52,0.25)(2.55,0.33)(2.57,0.45)
(2.59,0.55)(2.62,0.62)(2.65,0.7)(2.68,0.66)(2.72,0.6)(2.76,0.55)(2.8,0.5)(2.85,0.44)
(2.9,0.38)(2.95,0.32)(3.0,0.27)(3.05,0.23)(3.1,0.19)(3.15,0.17)(3.2,0.2)(3.25,0.27)
(3.3,0.42)(3.33,0.52)(3.37,0.47)(3.42,0.41)(3.47,0.37)(3.51,0.45)(3.55,0.55)(3.58,0.65)
(3.62,0.62)(3.65,0.75)(3.68,1.0)(3.71,1.15)(3.74,1.05)(3.78,0.95)(3.83,0.85)(3.88,0.75)
(3.93,0.65)(3.98,0.55)(4.03,0.45)(4.08,0.37)(4.13,0.31)(4.18,0.27)(4.23,0.24)(4.3,0.21)
(4.36,0.18)(4.42,0.16)(4.46,0.15)(4.47,0.35)(4.49,0.45)(4.52,0.55)(4.54,0.7)(4.57,0.65)
(4.6,0.63)(4.63,0.7)(4.67,0.75)(4.7,0.78)(4.73,0.73)(4.77,0.66)(4.82,0.58)(4.87,0.5)
(4.92,0.43)(4.97,0.37)(5.02,0.32)(5.08,0.26)(5.14,0.22)(5.2,0.18)(5.26,0.15)(5.3,0.15)
(5.35,0.18)(5.4,0.14)(5.45,0.11)(5.48,0.08)(5.5,0.2)(5.52,0.35)(5.55,0.42)(5.6,0.47)
(5.64,0.53)(5.68,0.6)(5.71,0.7)(5.74,0.8)(5.77,0.74)(5.8,0.68)(5.85,0.6)(5.9,0.52)
(5.95,0.45)(6.0,0.38)(6.05,0.32)(6.1,0.27)(6.15,0.22)(6.2,0.18)(6.25,0.15)(6.3,0.14)
(6.35,0.17)(6.4,0.15)(6.45,0.13)(6.49,0.14)(6.51,0.4)(6.53,0.7)(6.55,0.85)(6.57,0.95)
(6.6,0.88)(6.64,0.8)(6.68,0.73)(6.72,0.66)(6.77,0.58)(6.82,0.5)(6.87,0.43)(6.92,0.37)
(6.96,0.32)(7.0,0.28)};
\end{axis}

% ---------------- captions ----------------
\begin{scope}[every node/.style={anchor=base, font=\capfont\fontsize{12.2}{14}\selectfont}]
\node at (148,208) {(a)\hspace{7pt}Evapotranspiration};
\node at (447.5,208) {(b)\hspace{7pt}Surface\hspace{6pt}flow};
\node at (136,6.5) {(c)\hspace{7pt}Lateral\hspace{6pt}flow};
\node at (456.5,6.5) {(d)\hspace{7pt}Groundwater\hspace{6pt}flow};
\end{scope}
\end{tikzpicture}
\end{document}
